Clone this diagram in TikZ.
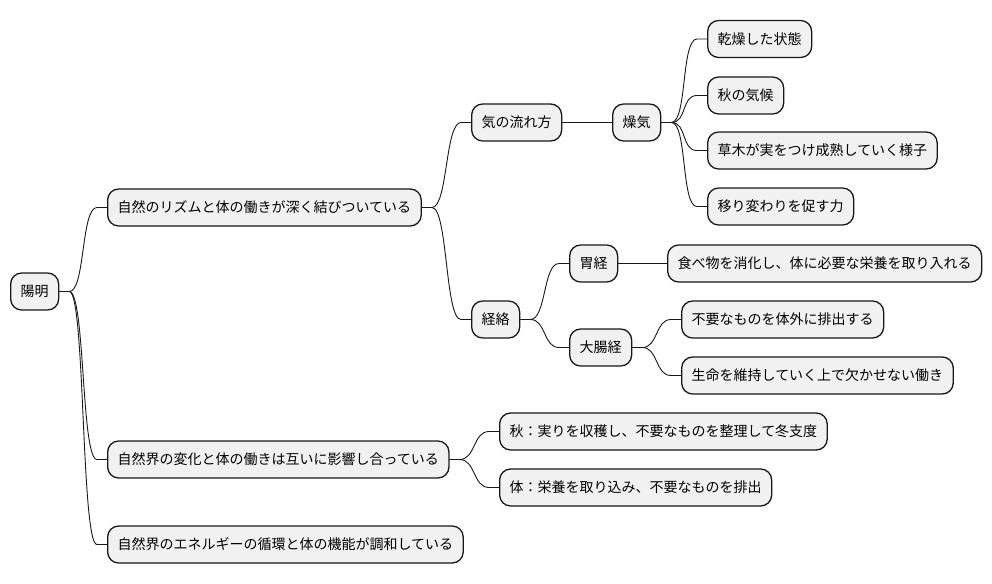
\documentclass[tikz,border=0pt]{standalone}
\usepackage{fontspec}
\setmainfont{Noto Sans CJK JP}
\definecolor{boxfill}{HTML}{F1F1F1}
\definecolor{boxline}{HTML}{181818}
\tikzset{
  mm/.style={draw=boxline, fill=boxfill, line width=1.3pt, rounded corners=11pt,
    inner xsep=10pt, inner ysep=0pt, minimum height=37pt, anchor=west,
    font=\fontsize{14}{16}\selectfont},
  conn/.style={to path={-- ++(10pt,0) .. controls +(16pt,0) and ([xshift=-26pt]\tikztotarget) .. ([xshift=-10pt]\tikztotarget) -- (\tikztotarget)}},
  lk/.style={draw=boxline, line width=0.9pt}
}
\begin{document}
\begin{tikzpicture}[x=1pt,y=-1pt]
\useasboundingbox (0,0) rectangle (992,583);
\node[mm] (root) at (10,291.5) {陽明};
\node[mm] (a) at (107,207.5) {自然のリズムと体の働きが深く結びついている};
\node[mm] (a1) at (471,122.5) {気の流れ方};
\node[mm] (a11) at (612,122.5) {燥気};
\node[mm] (a111) at (707,39) {乾燥した状態};
\node[mm] (a112) at (707,95.5) {秋の気候};
\node[mm] (a113) at (707,150.5) {草木が実をつけ成熟していく様子};
\node[mm] (a114) at (707,206.5) {移り変わりを促す力};
\node[mm] (a2) at (471,319.5) {経絡};
\node[mm] (a21) at (569,263.5) {胃経};
\node[mm] (a211) at (667,263.5) {食べ物を消化し、体に必要な栄養を取り入れる};
\node[mm] (a22) at (569,347.5) {大腸経};
\node[mm] (a221) at (681,319.5) {不要なものを体外に排出する};
\node[mm] (a222) at (681,375.5) {生命を維持していく上で欠かせない働き};
\node[mm] (b) at (107,459.5) {自然界の変化と体の働きは互いに影響し合っている};
\node[mm] (b1) at (499,431.5) {秋：実りを収穫し、不要なものを整理して冬支度};
\node[mm] (b2) at (499,487.5) {体：栄養を取り込み、不要なものを排出};
\node[mm] (c) at (107,544.5) {自然界のエネルギーの循環と体の機能が調和している};
\draw[lk] (root.east) to[conn] (a.west);
\draw[lk] (root.east) to[conn] (b.west);
\draw[lk] (root.east) to[conn] (c.west);
\draw[lk] (a.east) to[conn] (a1.west);
\draw[lk] (a.east) to[conn] (a2.west);
\draw[lk] (a1.east) -- (a11.west);
\draw[lk] (a11.east) to[conn] (a111.west);
\draw[lk] (a11.east) to[conn] (a112.west);
\draw[lk] (a11.east) to[conn] (a113.west);
\draw[lk] (a11.east) to[conn] (a114.west);
\draw[lk] (a2.east) to[conn] (a21.west);
\draw[lk] (a2.east) to[conn] (a22.west);
\draw[lk] (a21.east) -- (a211.west);
\draw[lk] (a22.east) to[conn] (a221.west);
\draw[lk] (a22.east) to[conn] (a222.west);
\draw[lk] (b.east) to[conn] (b1.west);
\draw[lk] (b.east) to[conn] (b2.west);
\end{tikzpicture}
\end{document}
